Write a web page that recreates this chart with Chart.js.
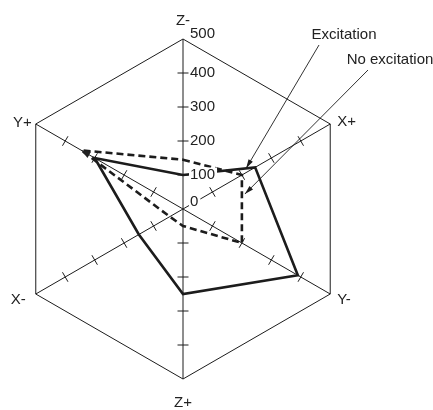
<!DOCTYPE html>
<html>
<head>
<meta charset="utf-8">
<script src="https://cdn.jsdelivr.net/npm/chart.js@4/dist/chart.umd.min.js"></script>
<style>
   body { margin: 0; background: #fff; }
   #chart { display: block; }
</style>
</head>
<body>
<canvas id="chart" width="433" height="410"></canvas>
<script>
// Axis order runs clockwise from the top
const axisLabels = ['Z-', 'X+', 'Y-', 'Z+', 'X-', 'Y+'];
const excitation = [100, 245, 390, 250, 150, 300];
const noExcitation = [145, 200, 200, 50, 45, 345];
const tickValues = [0, 100, 200, 300, 400, 500];
const tickLabels = ['0', '100', '200', '300', '400', '500'];
const seriesNames = ['Excitation', 'No excitation'];

const INK = '#1c1c1c';
const FONT = "15px 'Liberation Sans', Arial, sans-serif";

// small filled arrow head at (x, y) pointing along angle a
function arrowHead(ctx, x, y, a, len, half) {
   ctx.save();
   ctx.translate(x, y);
   ctx.rotate(a);
   ctx.beginPath();
   ctx.moveTo(0, 0);
   ctx.lineTo(-len, -half);
   ctx.lineTo(-len, half);
   ctx.closePath();
   ctx.fill();
   ctx.restore();
}

function lerp(p, q, t) {
   return { x: p.x + (q.x - p.x) * t, y: p.y + (q.y - p.y) * t };
}

const axisDecor = {
   id: 'axisDecor',
   // tick marks across every spoke
   beforeDatasetsDraw(chart) {
      const r = chart.scales.r;
      const ctx = chart.ctx;
      ctx.save();
      ctx.strokeStyle = INK;
      ctx.lineWidth = 1;
      axisLabels.forEach((lab, i) => {
         tickValues.forEach(v => {
            if (v === 0 || v === r.max) return;
            const p = r.getPointPositionForValue(i, v);
            const a = p.angle + Math.PI / 2;
            const h = 5.5;
            ctx.beginPath();
            ctx.moveTo(p.x - Math.cos(a) * h, p.y - Math.sin(a) * h);
            ctx.lineTo(p.x + Math.cos(a) * h, p.y + Math.sin(a) * h);
            ctx.stroke();
         });
      });
      ctx.restore();
   },
   afterDatasetsDraw(chart) {
      const r = chart.scales.r;
      const ctx = chart.ctx;
      ctx.save();
      ctx.font = FONT;
      ctx.fillStyle = '#222';

      // arrow head on the dashed series at Y+
      const yp = r.getPointPositionForValue(5, noExcitation[5]);
      arrowHead(ctx, yp.x, yp.y, yp.angle, 9, 3.5);

      // tick labels on the Z- spoke, with white backdrop
      ctx.textBaseline = 'middle';
      ctx.textAlign = 'left';
      tickValues.forEach((v, k) => {
         const p = r.getPointPositionForValue(0, v);
         const x = p.x + 7;
         const y = p.y + (v === 0 ? -7 : (v === r.max ? -5 : 0));
         const w = ctx.measureText(tickLabels[k]).width;
         ctx.fillStyle = '#fff';
         ctx.fillRect(x - 1, y - 7.5, w + 3, 15);
         ctx.fillStyle = '#222';
         ctx.fillText(tickLabels[k], x, y);
      });

      // axis names outside the hexagon
      const offs = [
         { dx: 0, dy: -18, align: 'center' },
         { dx: 7, dy: -2, align: 'left' },
         { dx: 7, dy: 6, align: 'left' },
         { dx: 0, dy: 24, align: 'center' },
         { dx: -10, dy: 6, align: 'right' },
         { dx: -4, dy: -1, align: 'right' }
      ];
      axisLabels.forEach((lab, i) => {
         const p = r.getPointPositionForValue(i, r.max);
         ctx.textAlign = offs[i].align;
         ctx.fillText(lab, p.x + offs[i].dx, p.y + offs[i].dy);
      });

      // callouts
      ctx.textAlign = 'center';
      ctx.fillText(seriesNames[0], 344, 35);
      ctx.fillText(seriesNames[1], 390, 60);

      ctx.strokeStyle = INK;
      ctx.fillStyle = INK;
      ctx.lineWidth = 0.9;
      const t1 = lerp(r.getPointPositionForValue(0, excitation[0]), r.getPointPositionForValue(1, excitation[1]), 0.875);
      const t2 = lerp(r.getPointPositionForValue(1, noExcitation[1]), r.getPointPositionForValue(2, noExcitation[2]), 0.28);
      t2.x += 3;
      [[{ x: 319, y: 45 }, t1], [{ x: 368, y: 70 }, t2]].forEach(([s, e]) => {
         ctx.beginPath();
         ctx.moveTo(s.x, s.y);
         ctx.lineTo(e.x, e.y);
         ctx.stroke();
         arrowHead(ctx, e.x, e.y, Math.atan2(e.y - s.y, e.x - s.x), 9, 2.5);
      });
      ctx.restore();
   }
};

new Chart(document.getElementById('chart'), {
   type: 'radar',
   data: {
      labels: axisLabels,
      datasets: [
         {
            label: seriesNames[0],
            data: excitation,
            borderColor: INK,
            borderWidth: 2.6,
            borderJoinStyle: 'miter',
            fill: false,
            pointRadius: 0
         },
         {
            label: seriesNames[1],
            data: noExcitation,
            borderColor: INK,
            borderWidth: 2.6,
            borderDash: [7, 4],
            borderJoinStyle: 'miter',
            fill: false,
            pointRadius: 0
         }
      ]
   },
   options: {
      responsive: false,
      animation: false,
      layout: { padding: { left: 13, right: 80, top: 39, bottom: 31 } },
      elements: { line: { tension: 0 } },
      plugins: { legend: { display: false }, tooltip: { enabled: false } },
      scales: {
         r: {
            min: 0,
            max: 500,
            ticks: { display: false, stepSize: 100 },
            grid: {
               lineWidth: 1,
               color: ctx => (ctx.tick && ctx.tick.value === 500 ? INK : 'rgba(0,0,0,0)')
            },
            angleLines: { display: true, color: INK, lineWidth: 1 },
            pointLabels: { display: false }
         }
      }
   },
   plugins: [axisDecor]
});
</script>
</body>
</html>
